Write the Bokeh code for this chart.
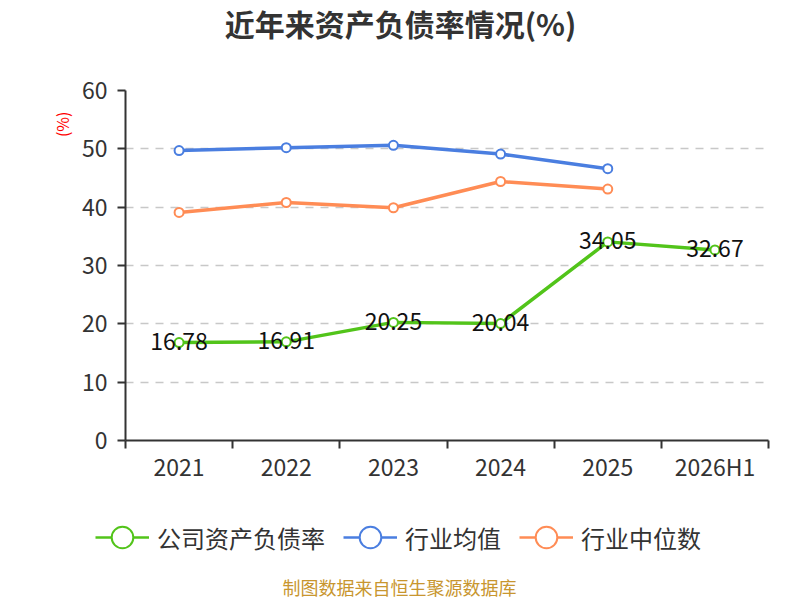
import numpy as np
from bokeh.plotting import figure
from bokeh.layouts import column
from bokeh.models import (ColumnDataSource, FixedTicker, Legend, LegendItem, Range1d, Title,
                          Label)
from bokeh.core.properties import value
from bokeh.embed import file_html
from bokeh.resources import INLINE

# ---- data ----
categories = ["2021", "2022", "2023", "2024", "2025", "2026H1"]
company = [16.78, 16.91, 20.25, 20.04, 34.05, 32.67]
industry_avg = [49.7, 50.2, 50.6, 49.1, 46.6]
industry_median = [39.1, 40.8, 39.9, 44.4, 43.1]
y_ticks = [0, 10, 20, 30, 40, 50, 60]
series_names = ["公司资产负债率", "行业均值", "行业中位数"]
colors = ["#52c41a", "#4a7ee0", "#ff8c55"]
title_text = "近年来资产负债率情况(%)"
unit_text = "(%)"
source_text = "制图数据来自恒生聚源数据库"

FONT = "Noto Sans CJK SC"
W = 800
series_values = [company, industry_avg, industry_median]
xs = list(np.arange(len(categories)) + 0.5)


def blank(height):
    f = figure(width=W, height=height, x_range=Range1d(0, 1), y_range=Range1d(0, 1),
               x_axis_type=None, y_axis_type=None, output_backend="svg",
               toolbar_location=None, min_border=0, frame_align=False)
    f.outline_line_color = None
    f.grid.visible = False
    return f


# ---- title strip ----
top = blank(60)
top.add_layout(Label(x=400, y=38, x_units="screen", y_units="screen", text=title_text,
                     text_align="center", text_baseline="middle", text_font=FONT,
                     text_font_size="30px", text_font_style="bold", text_color="#333333"))

# ---- main chart ----
p = figure(width=W, height=435,
           x_range=Range1d(0, len(categories)), y_range=Range1d(y_ticks[0], y_ticks[-1]),
           output_backend="svg", toolbar_location=None, frame_align=False,
           min_border_left=125, min_border_right=32, min_border_top=30, min_border_bottom=55)
p.outline_line_color = None

p.xgrid.visible = False
p.ygrid.ticker = FixedTicker(ticks=y_ticks)
p.ygrid.grid_line_color = "#c8c8c8"
p.ygrid.grid_line_dash = "8 7"
p.ygrid.grid_line_width = 1.5

ya = p.yaxis[0]
ya.ticker = FixedTicker(ticks=y_ticks)
ya.axis_line_color = "#333333"
ya.axis_line_width = 2
ya.major_tick_line_color = "#333333"
ya.major_tick_line_width = 2
ya.major_tick_out = 8
ya.major_tick_in = 0
ya.minor_tick_line_color = None
ya.major_label_text_font = FONT
ya.major_label_text_font_size = "23px"
ya.major_label_text_color = "#333333"
ya.major_label_standoff = 10

xa = p.xaxis[0]
xa.ticker = FixedTicker(ticks=xs, minor_ticks=list(range(len(categories) + 1)))
xa.major_label_overrides = {float(x): c for x, c in zip(xs, categories)}
xa.axis_line_color = "#333333"
xa.axis_line_width = 2
xa.major_tick_line_color = None
xa.major_tick_out = 0
xa.major_tick_in = 0
xa.minor_tick_line_color = "#333333"
xa.minor_tick_line_width = 2
xa.minor_tick_out = 8
xa.minor_tick_in = 0
xa.major_label_text_font = FONT
xa.major_label_text_font_size = "23px"
xa.major_label_text_color = "#333333"
xa.major_label_standoff = 0

for col, vals in zip(colors, series_values):
    src = ColumnDataSource(dict(x=xs[:len(vals)], y=vals))
    p.line("x", "y", source=src, line_color=col, line_width=3.5)
    p.scatter("x", "y", source=src, marker="circle", size=9, line_color=col,
              line_width=2, fill_color="white")

p.text(x=xs, y=company, text=[f"{v:.2f}" for v in company], text_align="center",
       text_baseline="middle", text_font=value(FONT), text_font_size="23px",
       text_color="#111111", y_offset=-1)

p.add_layout(Title(text=unit_text, align="right", offset=21, standoff=10,
                   text_font=FONT, text_font_size="16px", text_font_style="normal",
                   text_color="#ff0000"), "left")

# ---- legend + source strip ----
bot = blank(105)
items = []
for name, col, vals in zip(series_names, colors, series_values):
    # same series, but outside this strip's visible range: used only as legend proxies
    src = ColumnDataSource(dict(x=xs[:len(vals)], y=vals))
    lr = bot.line("x", "y", source=src, line_color=col, line_width=2.5)
    sr = bot.scatter("x", "y", source=src, marker="circle", line_color=col,
                     line_width=2, fill_color="white")
    items.append(LegendItem(label=name, renderers=[lr, sr]))

legend = Legend(items=items, orientation="horizontal", location=(95, 34),
                glyph_width=54, glyph_height=58, label_standoff=8, spacing=18,
                padding=0, margin=0, border_line_color=None, background_fill_alpha=0,
                label_text_font=FONT, label_text_font_size="24px", label_text_color="#333333")
bot.add_layout(legend, "center")
bot.add_layout(Label(x=399, y=14, x_units="screen", y_units="screen", text=source_text,
                     text_align="center", text_baseline="middle", text_font=FONT,
                     text_font_size="18px", text_color="#c8962f"))

layout = column(top, p, bot, spacing=0)
open("out.html", "w").write(file_html(layout, INLINE))
